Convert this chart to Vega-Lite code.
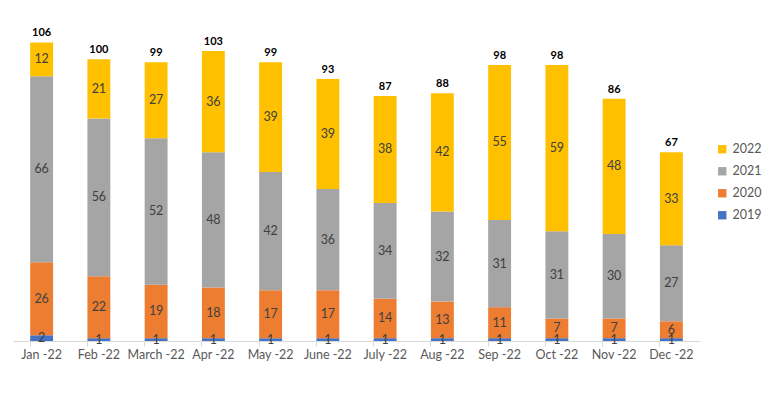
{
  "$schema": "https://vega.github.io/schema/vega-lite/v6.json",
  "autosize": {"type": "none"},
  "width": 687,
  "height": 338,
  "padding": {"left": 13, "top": 3, "right": 73, "bottom": 53},
  "background": "white",
  "config": {"view": {"stroke": null}, "font": "Lato"},
  "data": {"values": [
    {"month": "Jan -22", "series": "2019", "o": 1, "value": 2},
    {"month": "Jan -22", "series": "2020", "o": 2, "value": 26},
    {"month": "Jan -22", "series": "2021", "o": 3, "value": 66},
    {"month": "Jan -22", "series": "2022", "o": 4, "value": 12},
    {"month": "Feb -22", "series": "2019", "o": 1, "value": 1},
    {"month": "Feb -22", "series": "2020", "o": 2, "value": 22},
    {"month": "Feb -22", "series": "2021", "o": 3, "value": 56},
    {"month": "Feb -22", "series": "2022", "o": 4, "value": 21},
    {"month": "March -22", "series": "2019", "o": 1, "value": 1},
    {"month": "March -22", "series": "2020", "o": 2, "value": 19},
    {"month": "March -22", "series": "2021", "o": 3, "value": 52},
    {"month": "March -22", "series": "2022", "o": 4, "value": 27},
    {"month": "Apr -22", "series": "2019", "o": 1, "value": 1},
    {"month": "Apr -22", "series": "2020", "o": 2, "value": 18},
    {"month": "Apr -22", "series": "2021", "o": 3, "value": 48},
    {"month": "Apr -22", "series": "2022", "o": 4, "value": 36},
    {"month": "May -22", "series": "2019", "o": 1, "value": 1},
    {"month": "May -22", "series": "2020", "o": 2, "value": 17},
    {"month": "May -22", "series": "2021", "o": 3, "value": 42},
    {"month": "May -22", "series": "2022", "o": 4, "value": 39},
    {"month": "June -22", "series": "2019", "o": 1, "value": 1},
    {"month": "June -22", "series": "2020", "o": 2, "value": 17},
    {"month": "June -22", "series": "2021", "o": 3, "value": 36},
    {"month": "June -22", "series": "2022", "o": 4, "value": 39},
    {"month": "July -22", "series": "2019", "o": 1, "value": 1},
    {"month": "July -22", "series": "2020", "o": 2, "value": 14},
    {"month": "July -22", "series": "2021", "o": 3, "value": 34},
    {"month": "July -22", "series": "2022", "o": 4, "value": 38},
    {"month": "Aug -22", "series": "2019", "o": 1, "value": 1},
    {"month": "Aug -22", "series": "2020", "o": 2, "value": 13},
    {"month": "Aug -22", "series": "2021", "o": 3, "value": 32},
    {"month": "Aug -22", "series": "2022", "o": 4, "value": 42},
    {"month": "Sep -22", "series": "2019", "o": 1, "value": 1},
    {"month": "Sep -22", "series": "2020", "o": 2, "value": 11},
    {"month": "Sep -22", "series": "2021", "o": 3, "value": 31},
    {"month": "Sep -22", "series": "2022", "o": 4, "value": 55},
    {"month": "Oct -22", "series": "2019", "o": 1, "value": 1},
    {"month": "Oct -22", "series": "2020", "o": 2, "value": 7},
    {"month": "Oct -22", "series": "2021", "o": 3, "value": 31},
    {"month": "Oct -22", "series": "2022", "o": 4, "value": 59},
    {"month": "Nov -22", "series": "2019", "o": 1, "value": 1},
    {"month": "Nov -22", "series": "2020", "o": 2, "value": 7},
    {"month": "Nov -22", "series": "2021", "o": 3, "value": 30},
    {"month": "Nov -22", "series": "2022", "o": 4, "value": 48},
    {"month": "Dec -22", "series": "2019", "o": 1, "value": 1},
    {"month": "Dec -22", "series": "2020", "o": 2, "value": 6},
    {"month": "Dec -22", "series": "2021", "o": 3, "value": 27},
    {"month": "Dec -22", "series": "2022", "o": 4, "value": 33}
  ]},
  "resolve": {"axis": {"x": "independent"}},
  "layer": [
    {
      "transform": [
        {"stack": "value", "groupby": ["month"], "sort": [{"field": "o", "order": "ascending"}], "as": ["y0", "y1"]},
        {"calculate": "(datum.y0 + datum.y1) / 2", "as": "ymid"}
      ],
      "encoding": {
        "x": {
          "field": "month", "type": "nominal", "sort": null,
          "scale": {"paddingInner": 0.6, "paddingOuter": 0.3},
          "axis": {
            "orient": "bottom", "title": null, "labelAngle": 0, "labelFontSize": 12.5, "labelColor": "#595959",
            "labelPadding": 7, "domainColor": "#D9D9D9", "ticks": false
          }
        }
      },
      "layer": [
        {
          "mark": {"type": "bar"},
          "encoding": {
            "y": {"field": "y0", "type": "quantitative", "scale": {"domain": [0, 120]}, "axis": null},
            "y2": {"field": "y1"},
            "color": {
              "field": "series", "type": "nominal",
              "scale": {"domain": ["2022", "2021", "2020", "2019"], "range": ["#FFC000", "#A5A5A5", "#ED7D31", "#4472C4"]},
              "legend": {
                "title": null, "orient": "none", "legendX": 703, "legendY": 140,
                "symbolType": "square", "symbolSize": 70, "symbolStrokeWidth": 0,
                "labelFontSize": 12.5, "labelColor": "#595959", "rowPadding": 9, "labelOffset": 4
              }
            }
          }
        },
        {
          "mark": {"type": "text", "fontSize": 12.5, "color": "#404040"},
          "encoding": {
            "y": {"field": "ymid", "type": "quantitative"},
            "text": {"field": "value", "type": "quantitative"}
          }
        }
      ]
    },
    {
      "mark": {"type": "text", "fontSize": 11, "fontWeight": "bold", "color": "#000000", "dy": -9},
      "encoding": {
        "x": {
          "field": "month", "type": "nominal", "sort": null,
          "axis": {
            "orient": "bottom", "title": null, "labels": false, "domain": false,
            "ticks": true, "bandPosition": 0, "tickColor": "#D9D9D9", "tickSize": 5
          }
        },
        "y": {"aggregate": "sum", "field": "value", "type": "quantitative"},
        "text": {"aggregate": "sum", "field": "value", "type": "quantitative"}
      }
    }
  ]
}
